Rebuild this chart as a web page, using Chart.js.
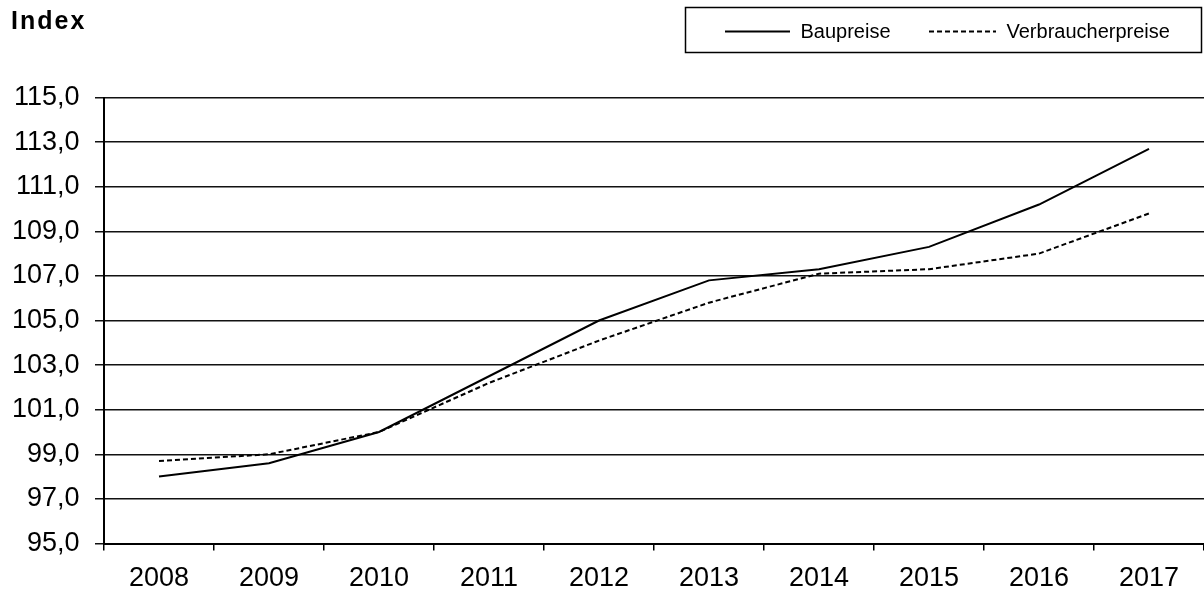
<!DOCTYPE html>
<html><head><meta charset="utf-8">
<script src="https://cdn.jsdelivr.net/npm/chart.js@4/dist/chart.umd.min.js"></script>
<style>html,body{margin:0;padding:0;background:#fff}#wrap{width:1204px;height:593px;position:relative}</style>
</head><body><div id="wrap"><canvas id="c" width="1204" height="593"></canvas></div>
<script>
const categories = ['2008','2009','2010','2011','2012','2013','2014','2015','2016','2017'];
const baupreise = [98.0, 98.6, 100.0, 102.5, 105.0, 106.8, 107.3, 108.3, 110.2, 112.7];
const verbraucherpreise = [98.7, 99.0, 100.0, 102.2, 104.1, 105.8, 107.1, 107.3, 108.0, 109.8];
const yTickValues = [95, 97, 99, 101, 103, 105, 107, 109, 111, 113, 115];
const axisTitle = 'Index';
const seriesNames = ['Baupreise', 'Verbraucherpreise'];

const FONT = 'Liberation Sans';

const decor = {
  id: 'decor',
  afterDraw(chart) {
    const ctx = chart.ctx;
    ctx.save();
    // axis title
    ctx.fillStyle = '#000';
    ctx.font = 'bold 25px "' + FONT + '"';
    if ('letterSpacing' in ctx) ctx.letterSpacing = '2px';
    ctx.textBaseline = 'alphabetic';
    ctx.textAlign = 'left';
    ctx.fillText(axisTitle, 11, 29);
    if ('letterSpacing' in ctx) ctx.letterSpacing = '0px';
    // legend box
    ctx.strokeStyle = '#000';
    ctx.lineWidth = 1.5;
    ctx.strokeRect(685.5, 7.5, 516, 45);
    const items = [
      {x1: 725, x2: 790, tx: 800.5},
      {x1: 929, x2: 996, tx: 1006.5}
    ];
    ctx.font = '20px "' + FONT + '"';
    ctx.textBaseline = 'alphabetic';
    chart.data.datasets.forEach((ds, i) => {
      const it = items[i];
      ctx.beginPath();
      ctx.setLineDash(ds.borderDash || []);
      ctx.lineWidth = ds.borderWidth;
      ctx.strokeStyle = ds.borderColor;
      ctx.moveTo(it.x1, 31.5);
      ctx.lineTo(it.x2, 31.5);
      ctx.stroke();
      ctx.setLineDash([]);
      ctx.fillStyle = '#000';
      ctx.fillText(ds.label, it.tx, 37.5);
    });
    ctx.restore();
  }
};

new Chart(document.getElementById('c'), {
  type: 'line',
  data: {
    labels: categories,
    datasets: [
      {label: seriesNames[0], data: baupreise, borderColor: '#000', borderWidth: 2, pointRadius: 0, tension: 0, fill: false},
      {label: seriesNames[1], data: verbraucherpreise, borderColor: '#000', borderWidth: 2, borderDash: [5, 3], pointRadius: 0, tension: 0, fill: false}
    ]
  },
  options: {
    responsive: false,
    animation: false,
    devicePixelRatio: 1,
    layout: {padding: {top: 97.5, right: 0, left: 0, bottom: 0}},
    plugins: {legend: {display: false}, tooltip: {enabled: false}, title: {display: false}},
    scales: {
      x: {
        type: 'category',
        offset: true,
        grid: {offset: true, drawOnChartArea: false, drawTicks: true, tickLength: 7, color: '#000', lineWidth: 1.5},
        border: {display: true, color: '#000', width: 2},
        ticks: {color: '#000', font: {family: FONT, size: 27}, padding: 12, maxRotation: 0, autoSkip: false},
        afterFit(scale) { scale.height = 49.5; }
      },
      y: {
        min: 95, max: 115,
        afterBuildTicks(scale) { scale.ticks = yTickValues.map(v => ({value: v})); },
        grid: {drawTicks: true, tickLength: 9, color: '#111', lineWidth: 1.5},
        border: {display: true, color: '#000', width: 2},
        ticks: {color: '#000', font: {family: FONT, size: 27}, padding: 15.5,
          callback: v => Number(v).toFixed(1).replace('.', ',')},
        afterFit(scale) { scale.width = 104; }
      }
    }
  },
  plugins: [decor]
});
</script></body></html>
